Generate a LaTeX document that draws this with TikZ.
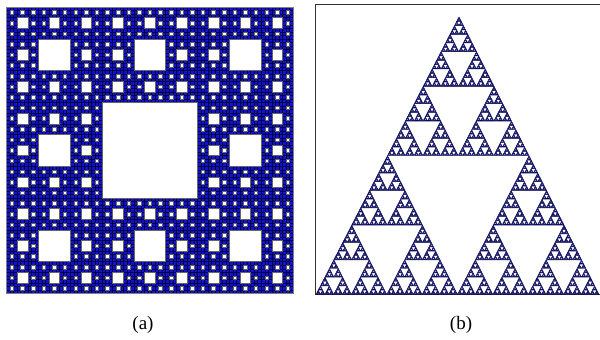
\documentclass[tikz,border=0pt]{standalone}
\usepackage{fontspec}
\setmainfont{Liberation Serif}
\definecolor{carpetblue}{RGB}{18,18,200}
\definecolor{gridcol}{RGB}{0,0,70}
\definecolor{trifill}{RGB}{20,20,150}
\definecolor{triedge}{RGB}{0,0,70}
\tikzset{
  gridln/.style={draw=gridcol, line width=0.35pt},
  sqhole/.style={fill=white, draw=black!60, line width=0.35pt},
  trihole/.style={fill=white, draw=triedge, line width=0.45pt},
  frame/.style={draw=black!80, line width=0.5pt},
  lbl/.style={font=\fontsize{19}{22}\selectfont, inner sep=0pt}
}
\begin{document}
\begin{tikzpicture}[x=1pt,y=1pt]
\useasboundingbox (0,0) rectangle (600,340);
% ---- Sierpinski carpet ----
\begin{scope}[shift={(6.5,46.5)}, x=3.537pt, y=3.537pt]
  \fill[carpetblue] (0,0) rectangle (81,81);
  \foreach \t in {0,...,81}{
    \draw[gridln] (\t,0) -- (\t,81);
    \draw[gridln] (0,\t) -- (81,\t);
  }
  \foreach \i in {0,...,26}{
    \foreach \j in {0,...,26}{
      \filldraw[sqhole] ({3*\i+1},{3*\j+1}) rectangle +(1,1);
    }
  }
  \foreach \i in {0,...,8}{
    \foreach \j in {0,...,8}{
      \filldraw[sqhole] ({9*\i+3},{9*\j+3}) rectangle +(3,3);
    }
  }
  \foreach \i in {0,...,2}{
    \foreach \j in {0,...,2}{
      \filldraw[sqhole] ({27*\i+9},{27*\j+9}) rectangle +(9,9);
    }
  }
  \filldraw[sqhole] (27,27) rectangle +(27,27);
  \draw[draw=black!50, line width=0.5pt] (0,0) rectangle (81,81);
\end{scope}
% ---- frame ----
\node[frame, minimum width=284.5pt, minimum height=290pt, inner sep=0pt, anchor=south west] (box) at (315,45) {};
% ---- Sierpinski triangle ----
\begin{scope}[shift={(316,45.5)}, x={(2.2109pt,0pt)}, y={(1.1172pt,2.168pt)}]
  \filldraw[fill=trifill, draw=triedge, line width=0.4pt] (0,0) -- (128,0) -- (0,128) -- cycle;
  \foreach \s in {2,4,8,16,32,64,128}{
    \pgfmathtruncatemacro\mm{128/\s-1}
    \pgfmathsetmacro\h{\s/2}
    \foreach \i in {0,...,\mm}{
      \pgfmathtruncatemacro\jmax{\mm-\i}
      \foreach \j in {0,...,\jmax}{
        \filldraw[trihole] ({\i*\s+\h},{\j*\s}) -- ++(0,\h) -- ++(-\h,0) -- cycle;
      }
    }
  }
\end{scope}
% ---- labels ----
\node[lbl] (la) at (143,15) {(a)};
\node[lbl] (lb) at (461,15) {(b)};
\end{tikzpicture}
\end{document}
